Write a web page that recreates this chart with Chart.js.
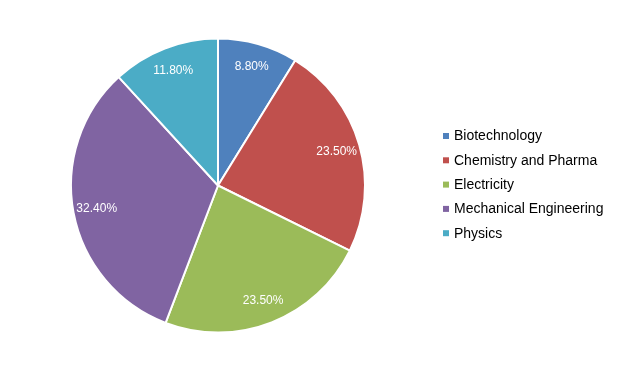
<!DOCTYPE html>
<html>
<head>
<meta charset="utf-8">
<script src="https://cdn.jsdelivr.net/npm/chart.js@4.4.1/dist/chart.umd.min.js"></script>
<style>
  html, body { margin: 0; padding: 0; background: #fff; }
  #wrap { width: 623px; height: 371px; position: relative; }
</style>
</head>
<body>
<div id="wrap"><canvas id="fieldPie"></canvas></div>
<script>
const categories = ['Biotechnology', 'Chemistry and Pharma', 'Electricity', 'Mechanical Engineering', 'Physics'];
const shares = [8.8, 23.5, 23.5, 32.4, 11.8];
const colors = ['#4F81BD', '#C0504D', '#9BBB59', '#8064A2', '#4BACC6'];

const FONT = '"Liberation Sans", Arial, sans-serif';

// percentage labels inside the slices
const sliceLabels = {
  id: 'sliceLabels',
  afterDatasetsDraw(chart) {
    const ctx = chart.ctx;
    const meta = chart.getDatasetMeta(0);
    ctx.save();
    ctx.fillStyle = '#fff';
    ctx.font = '12px ' + FONT;
    ctx.textAlign = 'center';
    ctx.textBaseline = 'middle';
    meta.data.forEach((arc, i) => {
      const p = arc.getProps(['x', 'y', 'startAngle', 'endAngle', 'outerRadius'], true);
      const mid = (p.startAngle + p.endAngle) / 2;
      const r = p.outerRadius * 0.84;
      ctx.fillText(shares[i].toFixed(2) + '%', p.x + Math.cos(mid) * r, p.y + Math.sin(mid) * r);
    });
    ctx.restore();
  }
};

// legend on the right, small square markers
const sideLegend = {
  id: 'sideLegend',
  afterDraw(chart) {
    const ctx = chart.ctx;
    ctx.save();
    ctx.font = '14px ' + FONT;
    ctx.textBaseline = 'middle';
    chart.data.labels.forEach((label, i) => {
      const y = 136 + i * 24.3;
      ctx.fillStyle = chart.data.datasets[0].backgroundColor[i];
      ctx.fillRect(443, y - 3, 6, 6);
      ctx.fillStyle = '#000';
      ctx.fillText(label, 454, y + 0.5);
    });
    ctx.restore();
  }
};

const ctxPie = document.getElementById('fieldPie').getContext('2d');
new Chart(ctxPie, {
  type: 'pie',
  data: {
    labels: categories,
    datasets: [{
      data: shares,
      backgroundColor: colors,
      borderColor: '#fff',
      borderWidth: 2
    }]
  },
  options: {
    responsive: true, maintainAspectRatio: false, animation: false,
    layout: { padding: { top: 37, bottom: 37, left: 70, right: 257 } },
    plugins: { legend: { display: false }, tooltip: { enabled: false } }
  },
  plugins: [sliceLabels, sideLegend]
});
</script>
</body>
</html>
